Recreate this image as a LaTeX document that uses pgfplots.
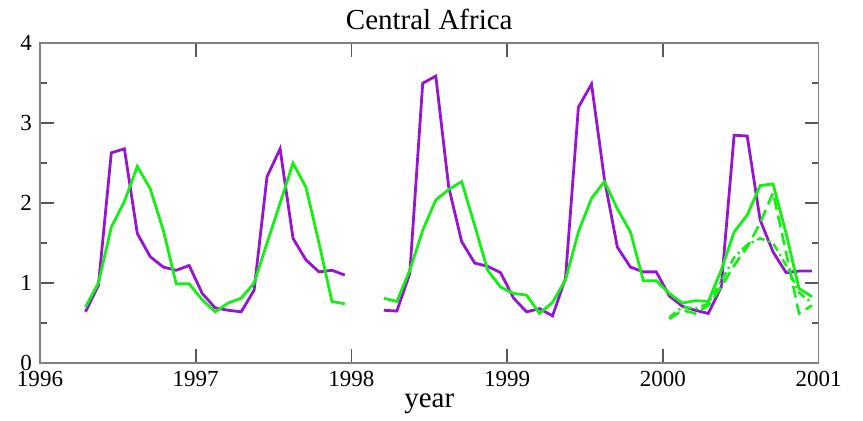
\documentclass[border=0pt]{standalone}
\usepackage{pgfplots}
\pgfplotsset{compat=1.18}
\usepackage{fontspec}
\setmainfont{Liberation Serif}
\definecolor{cpurple}{RGB}{150,20,210}
\definecolor{cgreen}{RGB}{20,240,20}
\begin{document}
\begin{tikzpicture}
\begin{axis}[
  scale only axis,
  width=389.25pt, height=159.85pt,
  xmin=1996, xmax=2001, ymin=0, ymax=4,
  xtick={1996,1997,1998,1999,2000,2001},
  ytick={0,1,2,3,4},
  minor ytick={0.5,1.5,2.5,3.5},
  /pgf/number format/1000 sep={},
  /pgf/number format/assume math mode=true,
  major tick length=7pt, minor tick length=3.5pt,
  axis line style={draw=gray, line width=0.8pt},
  tick style={gray!70!black, line width=0.8pt},
  tick label style={font=\fontsize{11.5}{13}\selectfont},
  xticklabel style={anchor=base, yshift=-12pt},
  yticklabel style={anchor=east, xshift=-0.5pt},
  title={Central Africa},
  title style={font=\fontsize{14.5}{17}\selectfont, at={(0.5,1)}, anchor=base, yshift=1pt},
  xlabel={year},
  xlabel style={font=\fontsize{14.5}{17}\selectfont, at={(0.5,0)}, anchor=base, yshift=-22.5pt},
  unbounded coords=jump,
  clip=false,
]
% purple
\addplot[cpurple, line width=1.4pt] coordinates {
(1996.292,0.64) (1996.375,0.97) (1996.458,2.63) (1996.542,2.68)
(1996.625,1.62) (1996.708,1.33) (1996.792,1.20) (1996.875,1.16)
(1996.958,1.22) (1997.042,0.87) (1997.125,0.69) (1997.208,0.66)
(1997.292,0.64) (1997.375,0.91) (1997.458,2.33) (1997.542,2.68)
(1997.625,1.56) (1997.708,1.29) (1997.792,1.14) (1997.875,1.16)
(1997.958,1.10)
(1998.1,nan)
(1998.208,0.66) (1998.292,0.65) (1998.375,1.12) (1998.458,3.50)
(1998.542,3.59) (1998.625,2.20) (1998.708,1.52) (1998.792,1.25)
(1998.875,1.21) (1998.958,1.13) (1999.042,0.81) (1999.125,0.64)
(1999.208,0.68) (1999.292,0.59) (1999.375,1.06) (1999.458,3.20)
(1999.542,3.49) (1999.625,2.30) (1999.708,1.45) (1999.792,1.20)
(1999.875,1.14) (1999.958,1.14) (2000.042,0.84) (2000.125,0.71)
(2000.208,0.66) (2000.292,0.62) (2000.375,0.95) (2000.458,2.85)
(2000.542,2.84) (2000.625,1.79) (2000.708,1.39) (2000.792,1.13)
(2000.875,1.15) (2000.958,1.15)
};
% green
\addplot[cgreen, line width=1.4pt] coordinates {
(1996.292,0.70) (1996.375,1.00) (1996.458,1.70) (1996.542,2.02)
(1996.625,2.46) (1996.708,2.18) (1996.792,1.66) (1996.875,0.99)
(1996.958,0.99) (1997.042,0.79) (1997.125,0.64) (1997.208,0.75)
(1997.292,0.81) (1997.375,1.00) (1997.458,1.50) (1997.542,2.00)
(1997.625,2.50) (1997.708,2.20) (1997.792,1.50) (1997.875,0.77)
(1997.958,0.74)
(1998.1,nan)
(1998.208,0.81) (1998.292,0.77) (1998.375,1.16) (1998.458,1.66)
(1998.542,2.04) (1998.625,2.17) (1998.708,2.27) (1998.792,1.72)
(1998.875,1.16) (1998.958,0.95) (1999.042,0.87) (1999.125,0.85)
(1999.208,0.62) (1999.292,0.76) (1999.375,1.04) (1999.458,1.64)
(1999.542,2.06) (1999.625,2.27) (1999.708,1.93) (1999.792,1.64)
(1999.875,1.03) (1999.958,1.03) (2000.042,0.87) (2000.125,0.75)
(2000.208,0.78) (2000.292,0.77) (2000.375,1.16) (2000.458,1.64)
(2000.542,1.85) (2000.625,2.22) (2000.708,2.24) (2000.792,1.62)
(2000.875,0.93) (2000.958,0.83)
};
% green dashed
\addplot[cgreen, line width=1.3pt, dash pattern=on 6pt off 3pt] coordinates {
(2000.042,0.55) (2000.125,0.66) (2000.208,0.62) (2000.292,0.72)
(2000.375,0.95) (2000.458,1.22) (2000.542,1.45) (2000.625,1.75)
(2000.708,2.13) (2000.792,1.38) (2000.875,0.62) (2000.958,0.72)
};
% green dash-dot
\addplot[cgreen, line width=1.3pt, dash pattern=on 4pt off 2pt on 1pt off 2pt] coordinates {
(2000.042,0.57) (2000.125,0.70) (2000.208,0.68) (2000.292,0.74)
(2000.375,1.02) (2000.458,1.32) (2000.542,1.48) (2000.625,1.56)
(2000.708,1.50) (2000.792,1.22) (2000.875,0.88) (2000.958,0.75)
};
\end{axis}
\path ([shift={(-20pt,-27pt)}]current axis.south west) rectangle ([shift={(22.25pt,21.65pt)}]current axis.north east);
\end{tikzpicture}
\end{document}
